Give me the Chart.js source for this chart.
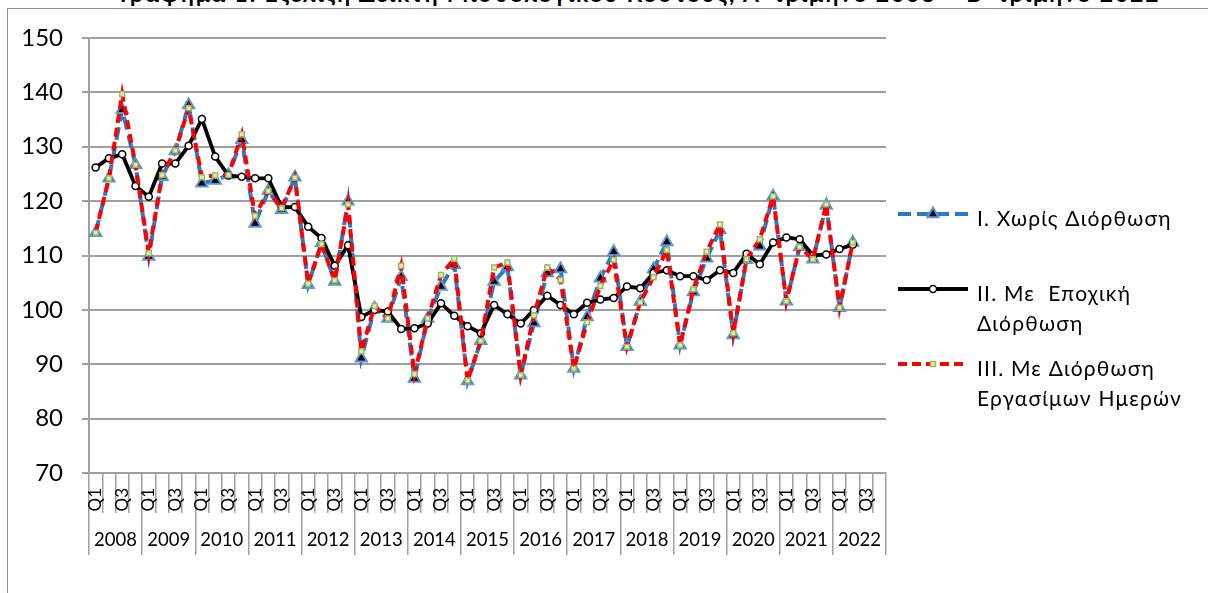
<!DOCTYPE html>
<html lang="el">
<head>
    <meta charset="UTF-8">
    <title>Δείκτης Μισθολογικού Κόστους</title>
    <script src="https://cdn.jsdelivr.net/npm/chart.js"></script>
    <style>
        html, body { margin: 0; padding: 0; background: #fff; overflow: hidden; }
        body { width: 1208px; height: 593px; position: relative; font-family: Lato, "Noto Sans", sans-serif; }
        #title {
            position: absolute; left: 0; top: -18.5px; width: 1280px;
            text-align: center; font-weight: bold; font-size: 23px; line-height: 23px;
            letter-spacing: 1.8px; white-space: nowrap; color: #000;
        }
        #frame { position: absolute; left: 7px; top: 8px; width: 1400px; height: 800px; border: 1.5px solid #8f8f8f; }
        #chart { position: absolute; left: 0; top: 0; }
    </style>
</head>
<body>
    <div id="title">Γράφημα 1: Εξέλιξη Δείκτη Μισθολογικού Κόστους, Α' τρίμηνο 2008 – Β' τρίμηνο 2022</div>
    <div id="frame"></div>
    <canvas id="chart" width="1208" height="593"></canvas>

    <script>
        const years = ['2008', '2009', '2010', '2011', '2012', '2013', '2014', '2015',
                       '2016', '2017', '2018', '2019', '2020', '2021', '2022'];
        const quarterNames = ['Q1', 'Q2', 'Q3', 'Q4'];
        const shownQuarters = ['Q1', 'Q3'];

        // 2008Q1 .. 2022Q2
        const noAdjust = [
            114.2, 124.2, 136.8, 126.7,
            109.8, 124.5, 129.2, 137.7,
            123.3, 123.8, 124.8, 131.3,
            115.9, 121.9, 118.4, 124.4,
            104.6, 112.3, 105.2, 120.0,
            91.1, 100.3, 98.4, 106.1,
            87.4, 98.4, 104.3, 108.3,
            86.9, 94.3, 105.2, 107.9,
            88.0, 97.6, 106.8, 107.5,
            89.2, 98.7, 105.8, 110.7,
            93.2, 101.5, 107.5, 112.5,
            93.5, 103.3, 109.5, 114.7,
            95.4, 109.2, 111.7, 120.9,
            101.6, 111.6, 109.3, 119.2,
            100.4, 112.4
        ];
        const seasonal = [
            126.2, 127.9, 128.6, 122.8,
            120.8, 126.9, 126.9, 130.2,
            135.1, 128.2, 124.7, 124.5,
            124.2, 124.2, 118.9, 118.9,
            115.3, 113.2, 108.1, 111.9,
            98.7, 100.0, 99.7, 96.5,
            96.6, 97.5, 101.2, 98.9,
            97.0, 95.7, 100.9, 99.2,
            97.5, 100.0, 102.6, 100.9,
            99.2, 101.3, 101.9, 102.2,
            104.3, 104.0, 106.8, 107.3,
            106.2, 106.2, 105.5, 107.3,
            106.8, 110.3, 108.4, 112.4,
            113.3, 113.0, 110.0, 110.2,
            111.2, 112.0
        ];
        const workingDays = [
            114.2, 124.2, 139.7, 126.7,
            110.4, 124.8, 129.3, 137.1,
            124.4, 124.7, 124.8, 132.3,
            117.3, 121.9, 118.7, 124.3,
            104.8, 112.1, 105.4, 119.4,
            92.4, 100.7, 98.4, 108.1,
            88.2, 98.4, 106.4, 109.4,
            87.0, 94.3, 107.8, 108.7,
            88.0, 99.0, 107.8, 105.5,
            89.2, 97.7, 104.4, 109.2,
            93.2, 101.4, 106.0, 111.0,
            93.5, 103.8, 110.7, 115.7,
            95.7, 109.3, 113.0, 120.9,
            101.6, 111.6, 109.3, 119.4,
            100.4, 112.4
        ];

        const seriesNames = ['I. Χωρίς Διόρθωση', 'II. Με Εποχική Διόρθωση', 'III. Με Διόρθωση Εργασίμων Ημερών'];
        const legendLines = [
            ['I. Χωρίς Διόρθωση'],
            ['II. Με  Εποχική', 'Διόρθωση'],
            ['III. Με Διόρθωση', 'Εργασίμων Ημερών']
        ];

        const quarterLabels = [];
        years.forEach(y => quarterNames.forEach(q => quarterLabels.push(q)));

        const FONT = 'Lato, "Noto Sans", sans-serif';
        const GRID = '#a0a0a0';

        function drawMarker(c, style, x, y, r, fill, stroke, bw) {
            c.save();
            c.beginPath();
            if (style === 'triangle') {
                c.moveTo(x, y - r);
                c.lineTo(x + r * Math.sin(2 * Math.PI / 3), y - r * Math.cos(2 * Math.PI / 3));
                c.lineTo(x + r * Math.sin(4 * Math.PI / 3), y - r * Math.cos(4 * Math.PI / 3));
                c.closePath();
            } else if (style === 'rect') {
                const s = r * Math.SQRT1_2;
                c.rect(x - s, y - s, 2 * s, 2 * s);
            } else {
                c.arc(x, y, r, 0, Math.PI * 2);
            }
            c.fillStyle = fill;
            c.fill();
            c.lineWidth = bw;
            c.strokeStyle = stroke;
            c.setLineDash([]);
            c.stroke();
            c.restore();
        }

        const sideLegend = {
            id: 'sideLegend',
            afterDraw(chart) {
                const c = chart.ctx;
                const rowsY = [214, 289, 364];
                chart.data.datasets.forEach((ds, i) => {
                    const y = rowsY[i];
                    c.save();
                    c.beginPath();
                    c.strokeStyle = ds.borderColor;
                    c.lineWidth = ds.borderWidth;
                    c.setLineDash(ds.borderDash || []);
                    c.moveTo(898, y);
                    c.lineTo(968, y);
                    c.stroke();
                    c.restore();
                    drawMarker(c, ds.pointStyle, 933, y, ds.pointRadius, ds.pointBackgroundColor, ds.pointBorderColor, ds.pointBorderWidth);

                    c.save();
                    c.fillStyle = '#000';
                    c.font = '21px ' + FONT;
                    c.letterSpacing = '1.2px';
                    c.textBaseline = 'middle';
                    c.textAlign = 'left';
                    legendLines[i].forEach((t, k) => c.fillText(t, 977, y + 5 + k * 30));
                    c.restore();
                });
            }
        };

        new Chart(document.getElementById('chart'), {
            type: 'line',
            data: {
                labels: quarterLabels,
                datasets: [
                    {
                        label: seriesNames[0],
                        data: noAdjust,
                        borderColor: '#2a7bc6',
                        borderWidth: 4,
                        borderDash: [13, 6],
                        pointStyle: 'triangle',
                        pointRadius: 6.5,
                        pointBackgroundColor: '#000',
                        pointBorderColor: '#5b95d3',
                        pointBorderWidth: 2,
                        tension: 0,
                        order: 3
                    },
                    {
                        label: seriesNames[1],
                        data: seasonal,
                        borderColor: '#000',
                        borderWidth: 3.8,
                        pointStyle: 'circle',
                        pointRadius: 3.5,
                        pointBackgroundColor: '#fff',
                        pointBorderColor: '#000',
                        pointBorderWidth: 1.5,
                        tension: 0,
                        order: 2
                    },
                    {
                        label: seriesNames[2],
                        data: workingDays,
                        borderColor: '#ff0000',
                        borderWidth: 4,
                        borderDash: [9, 5],
                        pointStyle: 'rect',
                        pointRadius: 3.5,
                        pointBackgroundColor: '#dfe9c9',
                        pointBorderColor: '#9bbb59',
                        pointBorderWidth: 1.5,
                        tension: 0,
                        order: 1
                    }
                ]
            },
            options: {
                responsive: false,
                animation: false,
                events: [],
                layout: { padding: { left: 0, top: 38, right: 322, bottom: 0 } },
                plugins: {
                    legend: { display: false },
                    tooltip: { enabled: false },
                    title: { display: false }
                },
                scales: {
                    x: {
                        type: 'category',
                        position: 'bottom',
                        offset: true,
                        weight: 0,
                        afterFit: s => { s.height = 40; },
                        grid: { display: true, drawOnChartArea: false, offset: true, tickLength: 40, color: GRID, lineWidth: 1.5 },
                        border: { display: true, color: GRID, width: 2 },
                        ticks: {
                            autoSkip: false,
                            minRotation: 90,
                            maxRotation: 90,
                            padding: -25,
                            color: '#000',
                            font: { family: FONT, size: 17 },
                            callback: function (value) {
                                const l = this.getLabelForValue(value);
                                return shownQuarters.includes(l) ? l : '';
                            }
                        }
                    },
                    x2: {
                        type: 'category',
                        position: 'bottom',
                        labels: years,
                        offset: true,
                        weight: 1,
                        afterFit: s => { s.height = 80; },
                        grid: { display: true, drawOnChartArea: false, offset: true, tickLength: 42, color: GRID, lineWidth: 1.5 },
                        border: { display: false },
                        ticks: {
                            autoSkip: false,
                            maxRotation: 0,
                            minRotation: 0,
                            padding: -26,
                            color: '#000',
                            font: { family: FONT, size: 18.5 }
                        }
                    },
                    y: {
                        min: 70,
                        max: 150,
                        afterFit: s => { s.width = 89; },
                        grid: { color: GRID, lineWidth: 2, tickLength: 7 },
                        border: { display: true, color: GRID, width: 2 },
                        ticks: {
                            stepSize: 10,
                            padding: 19,
                            color: '#000',
                            font: { family: FONT, size: 24 }
                        }
                    }
                }
            },
            plugins: [sideLegend]
        });
    </script>
</body>
</html>
